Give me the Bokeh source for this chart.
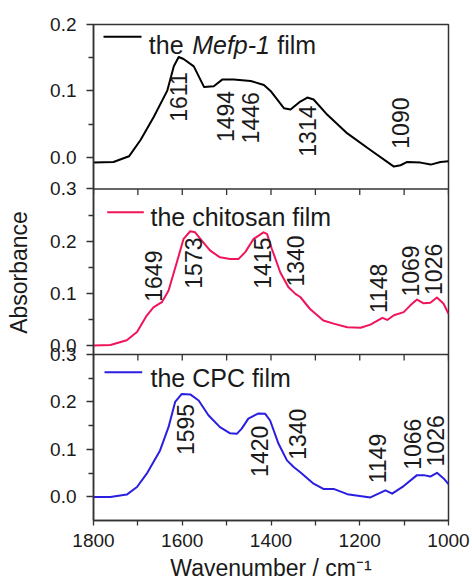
from math import pi
from bokeh.plotting import figure
from bokeh.models import (Range1d, FixedTicker, Label, BoxAnnotation, Span)
from bokeh.core.properties import value
from bokeh.embed import file_html
from bokeh.resources import INLINE

FONT = "Liberation Sans"

# ---------------- data ----------------
wn_mefp = [1800, 1755, 1720, 1694, 1664, 1634, 1619, 1608, 1597, 1574, 1551, 1529, 1510,
           1484, 1446, 1416, 1401, 1371, 1356, 1334, 1318, 1304, 1273, 1228, 1176, 1123,
           1108, 1093, 1063, 1040, 1018, 1000]
abs_mefp = [-0.008, -0.007, 0.0015, 0.026, 0.061, 0.100, 0.137, 0.151, 0.148, 0.137, 0.106,
            0.107, 0.117, 0.117, 0.115, 0.109, 0.100, 0.074, 0.072, 0.084, 0.090, 0.087,
            0.064, 0.036, 0.011, -0.014, -0.012, -0.007, -0.008, -0.011, -0.007, -0.006]

wn_chitosan = [1800, 1762, 1725, 1702, 1680, 1665, 1646, 1631, 1612, 1597, 1582, 1571, 1556,
               1537, 1515, 1492, 1473, 1458, 1439, 1417, 1409, 1398, 1379, 1361, 1345, 1334,
               1312, 1282, 1259, 1228, 1198, 1176, 1149, 1138, 1123, 1101, 1086, 1071, 1056,
               1041, 1026, 1011, 1000]
abs_chitosan = [0.000, 0.001, 0.010, 0.026, 0.0575, 0.073, 0.083, 0.105, 0.160, 0.2045, 0.219,
                0.217, 0.201, 0.182, 0.169, 0.166, 0.166, 0.179, 0.2045, 0.217, 0.214, 0.185,
                0.140, 0.112, 0.099, 0.093, 0.070, 0.048, 0.042, 0.035, 0.034, 0.040, 0.053,
                0.049, 0.058, 0.064, 0.077, 0.088, 0.081, 0.082, 0.092, 0.080, 0.061]

wn_cpc = [1800, 1762, 1725, 1702, 1680, 1650, 1631, 1616, 1601, 1582, 1563, 1541, 1515, 1492,
          1477, 1466, 1451, 1428, 1413, 1402, 1383, 1364, 1349, 1334, 1304, 1282, 1259, 1228,
          1176, 1142, 1127, 1101, 1071, 1056, 1041, 1026, 1011, 1000]
abs_cpc = [0.000, 0.000, 0.005, 0.021, 0.049, 0.098, 0.147, 0.200, 0.217, 0.216, 0.203, 0.172,
           0.147, 0.134, 0.133, 0.144, 0.165, 0.176, 0.175, 0.161, 0.112, 0.077, 0.063, 0.052,
           0.028, 0.017, 0.017, 0.006, -0.001, 0.014, 0.007, 0.023, 0.046, 0.046, 0.043, 0.051,
           0.039, 0.027]

peaks_mefp = ["1611", "1494", "1446", "1314", "1090"]
peaks_mefp_x = [1608, 1503, 1446, 1318, 1108]
peaks_mefp_y = [0.128, 0.100, 0.098, 0.078, 0.090]

peaks_chitosan = ["1649", "1573", "1415", "1340", "1148", "1069", "1026"]
peaks_chitosan_x = [1664, 1574, 1420, 1345, 1157, 1086, 1033]
peaks_chitosan_y = [0.182, 0.207, 0.207, 0.211, 0.157, 0.192, 0.195]

peaks_cpc = ["1595", "1420", "1340", "1149", "1066", "1026"]
peaks_cpc_x = [1593, 1427, 1341, 1160, 1082, 1029]
peaks_cpc_y = [0.196, 0.150, 0.186, 0.133, 0.165, 0.172]

x_major = [1800, 1600, 1400, 1200, 1000]
x_minor = [1700, 1500, 1300, 1100]

y_major_p1 = [0.0, 0.1, 0.2]
y_minor_p1 = [0.05, 0.15]
y_major_p2 = [0.0, 0.1, 0.2, 0.3]
y_minor_p2 = [0.05, 0.15, 0.25]
y_major_p3 = [0.0, 0.1, 0.2, 0.3]
y_minor_p3 = [-0.05, 0.05, 0.15, 0.25]

AXIS_COLOR = "#333333"
TEXT_COLOR = "#1a1a1a"
COLORS = ["#000000", "#f0145a", "#2a1ee0"]

W, H = 472, 585
BORDER_L, BORDER_R, BORDER_T, BORDER_B = 93, 24, 24, 65
FRAME_H = H - BORDER_T - BORDER_B

# each panel has its own y range spanning the whole frame; the panel sits in its band
ranges = {
    "p1": Range1d(-0.547, 0.2),
    "p2": Range1d(-0.3354, 0.6153),
    "p3": Range1d(-0.0495, 0.9947),
}
main_range = Range1d(ranges["p1"].start, ranges["p1"].end)
units_per_px = (main_range.end - main_range.start) / FRAME_H


def to_main(v, name):
    r = ranges[name]
    f = (v - r.start) / (r.end - r.start)
    return round(main_range.start + f * (main_range.end - main_range.start), 6)


p = figure(width=W, height=H, output_backend="svg", toolbar_location=None,
           x_range=Range1d(1800, 1000), y_range=main_range,
           min_border_left=BORDER_L, min_border_right=BORDER_R,
           min_border_top=BORDER_T, min_border_bottom=BORDER_B)
p.extra_y_ranges = ranges
p.grid.visible = False
p.outline_line_color = AXIS_COLOR
p.outline_line_width = 1.5
p.background_fill_color = "white"
p.border_fill_color = "white"

# bottom x axis
xa = p.xaxis[0]
xa.ticker = FixedTicker(ticks=x_major, minor_ticks=x_minor)
xa.axis_label = "Wavenumber / cm\u207b\u00b9"
xa.axis_label_text_font = FONT
xa.axis_label_text_font_size = "23px"
xa.axis_label_text_font_style = "normal"
xa.axis_label_text_color = TEXT_COLOR
xa.axis_label_standoff = 5
xa.major_label_text_font = FONT
xa.major_label_text_font_size = "19px"
xa.major_label_text_color = TEXT_COLOR
xa.major_label_standoff = 8
xa.major_tick_out = 5
xa.major_tick_in = 0
xa.minor_tick_out = 5
xa.minor_tick_in = 0
xa.axis_line_color = AXIS_COLOR
xa.axis_line_width = 1.5
xa.major_tick_line_color = AXIS_COLOR
xa.minor_tick_line_color = AXIS_COLOR
xa.major_tick_line_width = 1.3
xa.minor_tick_line_width = 1.3

# stacked y axis: tick positions of the three panels mapped into the main range
major_pos, minor_pos, overrides = [], [], {}
for name, majors, minors in [("p1", y_major_p1, y_minor_p1),
                             ("p2", y_major_p2, y_minor_p2),
                             ("p3", y_major_p3, y_minor_p3)]:
    for t in majors:
        pos = to_main(t, name)
        major_pos.append(pos)
        overrides[pos] = "%.1f" % t
    for t in minors:
        minor_pos.append(to_main(t, name))

ya = p.yaxis[0]
ya.ticker = FixedTicker(ticks=major_pos, minor_ticks=minor_pos)
ya.major_label_overrides = overrides
ya.axis_label = "Absorbance"
ya.axis_label_text_font = FONT
ya.axis_label_text_font_size = "23px"
ya.axis_label_text_font_style = "normal"
ya.axis_label_text_color = TEXT_COLOR
ya.axis_label_standoff = 15
ya.major_label_text_font = FONT
ya.major_label_text_font_size = "19px"
ya.major_label_text_color = TEXT_COLOR
ya.major_label_standoff = 10
ya.major_tick_out = 7
ya.major_tick_in = 0
ya.minor_tick_out = 5
ya.minor_tick_in = 0
ya.axis_line_color = AXIS_COLOR
ya.axis_line_width = 1.5
ya.major_tick_line_color = AXIS_COLOR
ya.minor_tick_line_color = AXIS_COLOR
ya.major_tick_line_width = 1.3
ya.minor_tick_line_width = 1.3

# panel separators (top edge of panels 2 and 3) with ticks hanging into the panel
sep_ticks = x_major + x_minor
for name in ["p2", "p3"]:
    loc = to_main(0.3, name)
    p.add_layout(Span(location=loc, dimension="width", line_color=AXIS_COLOR,
                      line_width=1.5))
    p.segment(x0=sep_ticks, x1=sep_ticks, y0=[loc] * len(sep_ticks),
              y1=[loc - 6 * units_per_px] * len(sep_ticks),
              line_color=AXIS_COLOR, line_width=1.3)

series = [
    ("p1", wn_mefp, abs_mefp, COLORS[0], peaks_mefp, peaks_mefp_x, peaks_mefp_y),
    ("p2", wn_chitosan, abs_chitosan, COLORS[1], peaks_chitosan, peaks_chitosan_x, peaks_chitosan_y),
    ("p3", wn_cpc, abs_cpc, COLORS[2], peaks_cpc, peaks_cpc_x, peaks_cpc_y),
]
for name, xs, ys, color, labels, lx, ly in series:
    p.line(xs, ys, y_range_name=name, line_color=color, line_width=2, line_join="round")
    p.text(x=lx, y=ly, text=labels, y_range_name=name, angle=pi / 2,
           text_align="right", text_baseline="middle",
           text_font=value(FONT), text_font_size="23px", text_color=TEXT_COLOR)

# legends (screen units, relative to the frame)
legend_specs = [
    (COLORS[0], 10, 48, 483.7, [("the", 55.3, "normal"), ("Mefp-1", 98.7, "italic"), ("film", 183.7, "normal")], 475.3),
    (COLORS[1], 13.7, 50.3, 308.3, [("the chitosan film", 57, "normal")], 303.3),
    (COLORS[2], 11, 48.7, 148.3, [("the CPC film", 57, "normal")], 142.7),
]
for color, x0, x1, ly, parts, base in legend_specs:
    p.add_layout(BoxAnnotation(left=x0, right=x1, bottom=ly - 1, top=ly + 1,
                               left_units="screen", right_units="screen",
                               bottom_units="screen", top_units="screen",
                               fill_color=color, fill_alpha=1, line_color=None))
    for txt, tx, style in parts:
        p.add_layout(Label(x=tx, y=base, x_units="screen", y_units="screen", text=txt,
                           text_font=FONT, text_font_size="25px", text_font_style=style,
                           text_color=TEXT_COLOR, text_baseline="alphabetic"))

open("out.html", "w").write(file_html(p, INLINE))
